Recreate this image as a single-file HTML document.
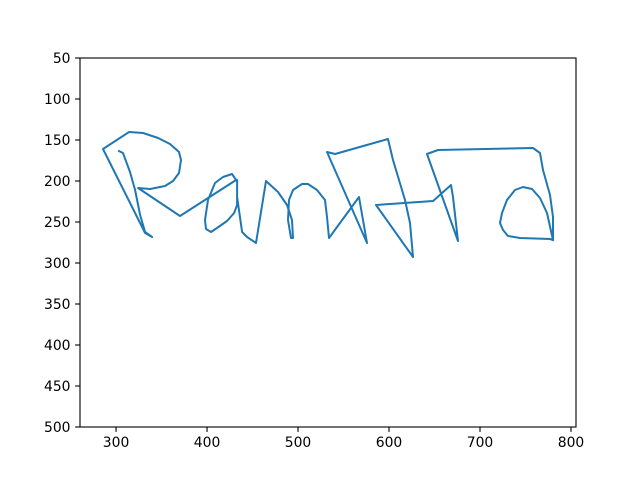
<!DOCTYPE html>
<html><head><meta charset="utf-8"><style>
body{margin:0;background:#fff;}
svg{display:block;font-family:"DejaVu Sans","Liberation Sans",sans-serif;}
</style></head><body>
<svg id="chart" width="640" height="480">
<rect x="0" y="0" width="640" height="480" fill="#fff"/>
<g id="plot"></g>
<rect x="80" y="58" width="496" height="369" fill="none" stroke="#000" stroke-width="1.1"/>
<g id="ticks"></g>
</svg>
<script>
const xs = [303.3,307.7,315.4,320.9,326.4,331.9,339.6,331.9,285.7,314.3,329.7,346.2,359.3,369.2,371.4,369.2,362.6,353.8,337.4,324.2,370.3,431.9,427.5,417.6,408.8,401.1,397.8,398.9,404.4,411.0,422.0,429.7,433.0,433.0,433.0,438.5,444.0,453.8,464.8,478.0,487.9,493.4,494.5,492.3,489.0,490.1,494.5,504.4,511.0,520.9,529.7,531.9,534.1,567.0,571.4,575.8,531.9,540.7,598.9,604.4,617.6,623.1,626.4,585.7,648.4,668.1,670.3,675.8,641.8,653.8,758.2,765.9,769.2,776.9,780.2,780.2,776.9,744.0,730.8,725.3,722.0,724.2,729.7,738.5,747.3,757.1,765.9,773.6,780.2];
const ys = [163.4,165.9,189.0,211.0,241.5,262.2,268.3,263.4,161.0,140.2,141.5,147.6,154.9,164.6,174.4,190.2,200.0,206.1,209.8,208.5,242.7,198.8,191.5,195.1,202.4,223.2,247.6,258.5,262.2,257.3,248.8,239.0,229.3,198.8,219.5,262.2,268.3,275.6,200.0,213.4,229.3,247.6,269.5,269.5,247.6,223.2,211.0,203.7,203.7,211.0,223.2,243.9,269.5,219.5,247.6,275.6,164.6,167.1,148.8,174.4,223.2,251.2,292.7,229.3,224.4,204.9,219.5,273.2,167.1,162.2,159.8,165.9,186.6,217.1,243.9,272.0,270.7,269.5,267.1,259.8,251.2,239.0,223.2,211.0,207.3,209.8,220.7,239.0,272.0];
const xTicks = [300,400,500,600,700,800];
const yTicks = [50,100,150,200,250,300,350,400,450,500];
const X0=80,X1=576,Y0=58,Y1=427;
const xMin=260.4,xMax=805.5,yMin=50,yMax=500;
function sx(v){return X0+(v-xMin)/(xMax-xMin)*(X1-X0);}
function sy(v){return Y0+(v-yMin)/(yMax-yMin)*(Y1-Y0);}
const NS="http://www.w3.org/2000/svg";
const plot=document.getElementById('plot');
const pl=document.createElementNS(NS,'polyline');
pl.setAttribute('points',xs.map((x,i)=>sx(x).toFixed(1)+','+sy(ys[i]).toFixed(1)).join(' '));
pl.setAttribute('fill','none');pl.setAttribute('stroke','#1f77b4');pl.setAttribute('stroke-width','2');
pl.setAttribute('stroke-linejoin','round');pl.setAttribute('stroke-linecap','square');


plot.appendChild(pl);
const tg=document.getElementById('ticks');
xTicks.forEach(t=>{
  const x=sx(t);
  const l=document.createElementNS(NS,'line');
  l.setAttribute('x1',x);l.setAttribute('x2',x);l.setAttribute('y1',Y1);l.setAttribute('y2',Y1+4.9);l.setAttribute('stroke','#000');l.setAttribute('stroke-width','1.1');
  
  
  tg.appendChild(l);
  const tx=document.createElementNS(NS,'text');
  tx.setAttribute('x',x);tx.setAttribute('y',Y1+20);tx.setAttribute('text-anchor','middle');tx.setAttribute('font-size','13.9');
  tx.textContent=t;
  
  
  tg.appendChild(tx);
});
yTicks.forEach(t=>{
  const y=sy(t);
  const l=document.createElementNS(NS,'line');
  l.setAttribute('x1',X0-4.9);l.setAttribute('x2',X0);l.setAttribute('y1',y);l.setAttribute('y2',y);l.setAttribute('stroke','#000');l.setAttribute('stroke-width','1.1');
  
  
  tg.appendChild(l);
  const tx=document.createElementNS(NS,'text');
  tx.setAttribute('x',X0-9.5);tx.setAttribute('y',y+5);tx.setAttribute('text-anchor','end');tx.setAttribute('font-size','13.9');
  tx.textContent=t;
  
  
  tg.appendChild(tx);
});
</script>
</body></html>
